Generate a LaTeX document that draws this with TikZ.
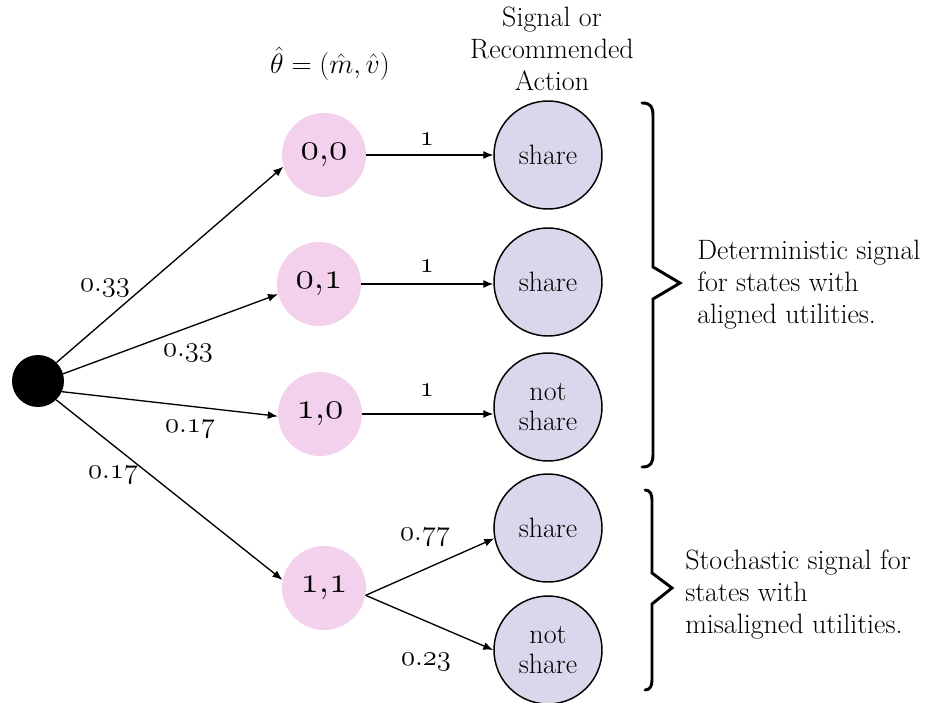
\documentclass[tikz,border=0pt]{standalone}
\usepackage{fix-cm}
\usetikzlibrary{arrows.meta}
\definecolor{pinkc}{HTML}{F3D1EC}
\definecolor{lav}{HTML}{DCD6EC}
\newcommand{\osn}[1]{\ensuremath{\mathnormal{#1}}}
\begin{document}
\begin{tikzpicture}[x=0.75pt,y=-0.75pt,
  txt/.style={font=\fontsize{21}{24}\selectfont, inner sep=0pt},
  numlab/.style={font=\fontsize{21.5}{24}\selectfont, inner sep=0pt},
  statenode/.style={circle, fill=pinkc, minimum size=63pt, inner sep=0pt, font=\fontsize{28}{30}\selectfont},
  actnode/.style={circle, fill=lav, draw=black, line width=1.1pt, minimum size=81pt, inner sep=0pt, align=center, font=\fontsize{21}{22}\selectfont},
  rootnode/.style={circle, fill=black, minimum size=39pt, inner sep=0pt},
  arr/.style={-{Latex[length=7.5pt,width=6pt]}, line width=1pt},
  brace/.style={line width=2.2pt, line cap=round, line join=miter}]
\useasboundingbox (0,0) rectangle (939,703);

% nodes
\node[rootnode] (root) at (38,381) {};
\node[statenode] (p00) at (324,155) {\osn{0{,}0}};
\node[statenode] (p01) at (319,284) {\osn{0{,}1}};
\node[statenode] (p10) at (320,414) {\osn{1{,}0}};
\node[statenode] (p11) at (324,588) {\osn{1{,}1}};

\node[actnode] (a1) at (548,155) {share};
\node[actnode] (a2) at (548,282) {share};
\node[actnode] (a3) at (548,407) {not\\share};
\node[actnode] (a4) at (548,528) {share};
\node[actnode] (a5) at (548,650) {not\\share};

% headers
\node[txt] (theta) at (330,64) {$\hat{\theta} = (\hat{m}, \hat{v})$};
\node[txt, align=center] (head) at (552,49) {Signal or\\Recommended\\Action};

% edges
\draw[arr] (root.45) -- (p00.196);
\draw[arr] (root.16) -- (p01.194);
\draw[arr] (root.-24) -- (p10.183);
\draw[arr] (root.-46) -- (p11.169);
\draw[arr] (p00.east) -- (p00.east -| a1.west);
\draw[arr] (p01.east) -- (p01.east -| a2.west);
\draw[arr] (p10.east) -- (p10.east -| a3.west);
\draw[arr] (p11.-10) -- (a4.191);
\draw[arr] (p11.-10) -- (a5.west);

% edge labels
\node[numlab] (l1) at (105,288) {\osn{0.33}};
\node[numlab] (l2) at (188,353) {\osn{0.33}};
\node[numlab] (l3) at (190,429) {\osn{0.17}};
\node[numlab] (l4) at (113,475) {\osn{0.17}};
\node[numlab] (l5) at (427,139) {\osn{1}};
\node[numlab] (l6) at (427,266) {\osn{1}};
\node[numlab] (l7) at (427,390) {\osn{1}};
\node[numlab] (l8) at (425,537) {\osn{0.77}};
\node[numlab] (l9) at (426,662) {\osn{0.23}};

% braces
\draw[brace] (642,103) .. controls (651,103) and (653,107) .. (653,116) -- (653,267) -- (680,283) -- (653,299) -- (653,454) .. controls (653,463) and (651,467) .. (642,467);
\draw[brace] (645,490) .. controls (650,490) and (652,494) .. (652,500) -- (652,573) -- (672,588) -- (652,604) -- (652,680) .. controls (652,686) and (650,690) .. (645,690);

% brace texts
\node[txt, anchor=west, align=left] (t1) at (697,285) {Deterministic signal\\for states with\\aligned utilities.};
\node[txt, anchor=west, align=left] (t2) at (685,595) {Stochastic signal for\\states with\\misaligned utilities.};
\end{tikzpicture}
\end{document}
